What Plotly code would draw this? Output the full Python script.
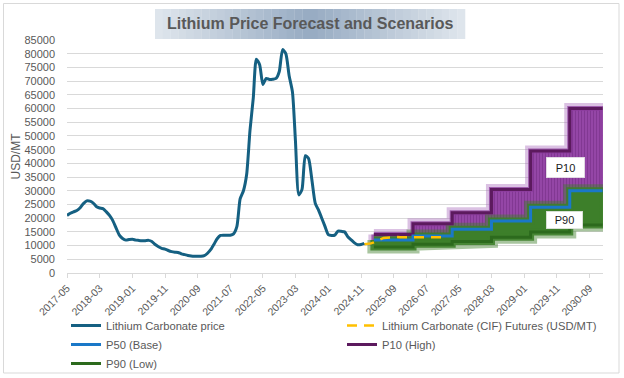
import pandas as pd
import plotly.graph_objects as go

# ---------------- data ----------------
HIST_START = "2017-05-01"
HIST_PRICE = [21000, 21800, 22300, 22800, 23800, 25300, 26300, 26200, 25500, 24200,
              23700, 23500, 22400, 21000, 19200, 16500, 13800, 12600, 12000, 12200,
              12300, 12000, 11900, 11800, 11800, 11900, 11500, 10400, 9600, 9000,
              8700, 8200, 7800, 7600, 7500, 7000, 6700, 6400, 6200, 6100,
              6100, 6100, 6300, 7200, 8600, 10600, 12500, 13700, 13800, 13800,
              13800, 14300, 17000, 27000, 30000, 36000, 52000, 64000, 78000, 76000,
              68800, 71000, 70600, 70700, 71000, 73500, 81500, 80000, 72000, 66000,
              48000, 28500, 30500, 42800, 41800, 34000, 25500, 23000, 20000, 17000,
              14000, 13700, 13800, 15300, 15200, 15000, 13200, 12100, 11000, 10300,
              10400, 10800]

FUT_START = "2024-12-01"
FUTURES = [10500, 10600, 10800, 11200, 11800, 12400, 12800, 12900, 13000, 13000,
           13100, 13000, 13000, 12900, 13000, 13100, 13000, 13000, 12900, 13000,
           13000, 13000, 12900, 13000, 13000]

# scenario periods (step starts) and end of horizon
PERIOD_START = ["2025-03-01", "2026-03-01", "2027-03-01", "2028-03-01", "2029-03-01", "2030-03-01"]
HORIZON_END = "2031-01-01"
P10_HIGH = [14000, 18000, 22000, 30500, 44500, 60000]
P50_BASE = [12000, 13500, 16000, 19000, 24000, 30000]
P90_LOW = [9500, 10500, 11500, 13000, 15000, 17500]

TICK_LABELS = ["2017-05", "2018-03", "2019-01", "2019-11", "2020-09", "2021-07", "2022-05",
               "2023-03", "2024-01", "2024-11", "2025-09", "2026-07", "2027-05", "2028-03",
               "2029-01", "2029-11", "2030-09"]

# ---------------- styling ----------------
FONT = "Liberation Sans"
GREY = "#595959"
GRID = "#D9D9D9"
C_HIST = "#156082"
C_FUT = "#FFC000"
C_P50 = "#1A78C8"
C_P10 = "#5C1A5E"
C_P90 = "#2C6A1D"

W, H = 624, 378
L, R, T, B = 67, 21, 40, 105
PW, PH = W - L - R, H - T - B


def px2x(px):
    return (px - L) / PW


def py2y(py):
    return (T + PH - py) / PH


hist_dates = pd.date_range(HIST_START, periods=len(HIST_PRICE), freq="MS")
fut_dates = pd.date_range(FUT_START, periods=len(FUTURES), freq="MS")
step_x = PERIOD_START + [HORIZON_END]


def step_line(vals):
    return step_x, vals + [vals[-1]]


def band_polygon(lower, upper):
    xs, ys = [], []
    for i, v in enumerate(upper):
        xs += [step_x[i], step_x[i + 1]]
        ys += [v, v]
    for i in range(len(lower) - 1, -1, -1):
        xs += [step_x[i + 1], step_x[i]]
        ys += [lower[i], lower[i]]
    xs.append(xs[0]); ys.append(ys[0])
    return xs, ys


fig = go.Figure()

# purple band (P50 -> P10) with glow
px_, py_ = band_polygon(P50_BASE, P10_HIGH)
fig.add_trace(go.Scatter(x=px_, y=py_, mode="lines", fill="none",
                         line=dict(color="rgba(165,100,185,0.40)", width=11),
                         showlegend=False, hoverinfo="skip"))
fig.add_trace(go.Scatter(x=px_, y=py_, mode="lines", fill="toself",
                         fillcolor="#8C3C9E",
                         fillpattern=dict(shape="|", fgcolor="#6F2A80", bgcolor="#9446A6",
                                          size=3, solidity=0.35),
                         line=dict(color="rgba(140,60,158,0.75)", width=5),
                         showlegend=False, hoverinfo="skip"))

# green band (P90 -> P50) with glow
gx_, gy_ = band_polygon(P90_LOW, P50_BASE)
fig.add_trace(go.Scatter(x=gx_, y=gy_, mode="lines", fill="none",
                         line=dict(color="rgba(61,127,42,0.45)", width=13),
                         showlegend=False, hoverinfo="skip"))
fig.add_trace(go.Scatter(x=gx_, y=gy_, mode="lines", fill="toself",
                         fillcolor="#3D7F2A",
                         line=dict(color="rgba(61,127,42,0.9)", width=7),
                         showlegend=False, hoverinfo="skip"))

# scenario lines
x10, y10 = step_line(P10_HIGH)
fig.add_trace(go.Scatter(x=x10, y=y10, mode="lines", name="P10 (High)", line_shape="hv",
                         line=dict(color=C_P10, width=3), legendrank=4))
x90, y90 = step_line(P90_LOW)
fig.add_trace(go.Scatter(x=x90, y=y90, mode="lines", name="P90 (Low)", line_shape="hv",
                         line=dict(color=C_P90, width=3), legendrank=5))
x50, y50 = step_line(P50_BASE)
fig.add_trace(go.Scatter(x=x50, y=y50, mode="lines", name="P50 (Base)", line_shape="hv",
                         line=dict(color=C_P50, width=3), legendrank=3))

fig.add_trace(go.Scatter(x=fut_dates, y=FUTURES, mode="lines",
                         name="Lithium Carbonate (CIF) Futures (USD/MT)",
                         line=dict(color=C_FUT, width=2.5, dash="10px,7px"), legendrank=2))
fig.add_trace(go.Scatter(x=hist_dates, y=HIST_PRICE, mode="lines",
                         name="Lithium Carbonate price", line_shape="spline",
                         line=dict(color=C_HIST, width=3, smoothing=0.6), legendrank=1))

# ---------------- layout ----------------
shapes = []
# chart border
shapes.append(dict(type="rect", xref="paper", yref="paper",
                   x0=px2x(3.5), x1=px2x(619), y0=py2y(373), y1=py2y(3.5),
                   line=dict(color=GRID, width=1), fillcolor="rgba(0,0,0,0)", layer="below"))
# title gradient box
x_left, x_right, n = 155, 465, 40
edge = (224, 230, 237)
mid = (150, 171, 194)
for i in range(n):
    a = x_left + (x_right - x_left) * i / n
    b = x_left + (x_right - x_left) * (i + 1) / n
    t = 1 - abs(((i + 0.5) / n) - 0.5) * 2
    c = tuple(round(edge[k] + (mid[k] - edge[k]) * t) for k in range(3))
    shapes.append(dict(type="rect", xref="paper", yref="paper",
                       x0=px2x(a), x1=px2x(b) + 0.0005, y0=py2y(39), y1=py2y(9),
                       line=dict(width=0), fillcolor="rgb(%d,%d,%d)" % c, layer="below"))

annotations = [
    dict(text="Lithium Price Forecast and Scenarios", xref="paper", yref="paper",
         x=px2x(310), y=py2y(24), showarrow=False, xanchor="center", yanchor="middle",
         font=dict(family=FONT, size=16, color=GREY, weight="bold")),
    dict(text="P10", x="2030-01-25", y=38400, showarrow=False, bgcolor="white",
         bordercolor="#E0E0E0", borderwidth=0.5, borderpad=3, width=32, height=14,
         font=dict(family=FONT, size=11, color="#1a1a1a")),
    dict(text="P90", x="2030-01-10", y=19400, showarrow=False, bgcolor="white",
         bordercolor="#E0E0E0", borderwidth=0.5, borderpad=2, width=32, height=13,
         font=dict(family=FONT, size=11, color="#1a1a1a")),
]

fig.update_layout(
    width=W, height=H,
    margin=dict(l=L, r=R, t=T, b=B, autoexpand=False),
    paper_bgcolor="white", plot_bgcolor="white",
    font=dict(family=FONT, color=GREY, size=11),
    shapes=shapes, annotations=annotations,
    showlegend=True,
    legend=dict(orientation="h", x=px2x(66), y=py2y(311), xanchor="left", yanchor="top",
                entrywidth=231, entrywidthmode="pixels", traceorder="normal",
                font=dict(family=FONT, size=11.2, color=GREY), bgcolor="rgba(0,0,0,0)",
                itemclick=False),
    xaxis=dict(type="date", range=["2017-05-01", "2031-01-05"],
               tickvals=[t + "-01" for t in TICK_LABELS], ticktext=TICK_LABELS,
               tickangle=-45, tickfont=dict(size=10.5, color=GREY),
               showgrid=False, showline=True, linecolor=GRID, linewidth=1,
               ticks="outside", ticklen=4, tickcolor=GRID, zeroline=False),
    yaxis=dict(range=[0, 85000], dtick=5000, tickformat="d",
               tickfont=dict(size=11, color=GREY), ticklabelstandoff=11,
               showgrid=True, gridcolor=GRID, gridwidth=1, zeroline=False,
               showline=False,
               title=dict(text="USD/MT", font=dict(size=12, color=GREY), standoff=1)),
)

fig.write_html("out.html", config={"displayModeBar": False},
               post_script="document.body.style.margin='0px';document.body.style.overflow='hidden';")
